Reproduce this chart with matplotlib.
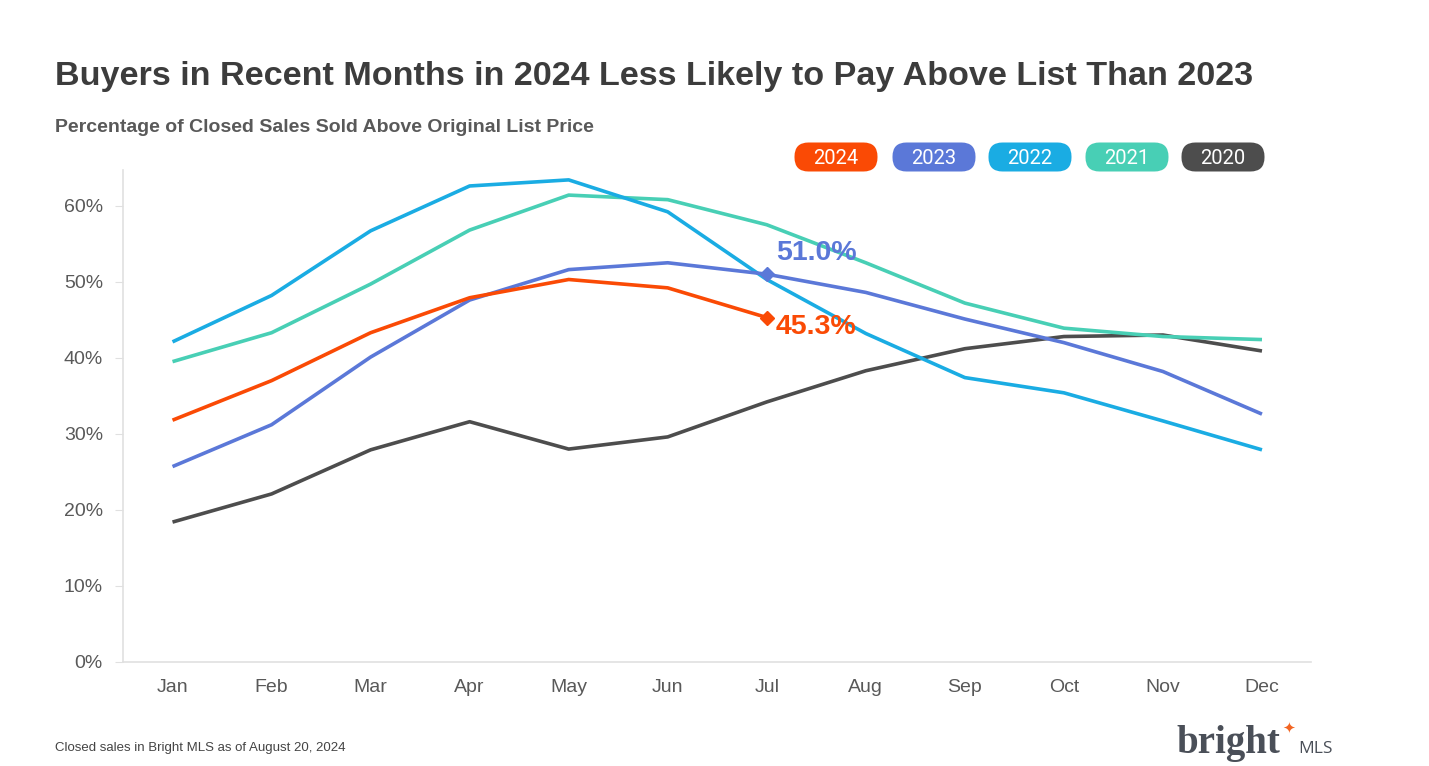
#!/usr/bin/env python3
"""Share of closed sales sold above original list price, 2020-2024."""

import matplotlib

matplotlib.use("Agg")
import matplotlib.pyplot as plt
from matplotlib.patches import FancyBboxPatch

MONTHS = ["Jan", "Feb", "Mar", "Apr", "May", "Jun", "Jul", "Aug", "Sep", "Oct", "Nov", "Dec"]

Y2024 = [31.8, 37.0, 43.3, 47.9, 50.3, 49.2, 45.3]
Y2023 = [25.7, 31.2, 40.1, 47.6, 51.6, 52.5, 51.0, 48.6, 45.1, 42.0, 38.2, 32.6]
Y2022 = [42.1, 48.2, 56.7, 62.6, 63.4, 59.2, 50.3, 43.2, 37.4, 35.4, 31.7, 27.9]
Y2021 = [39.5, 43.3, 49.7, 56.8, 61.4, 60.8, 57.5, 52.5, 47.2, 43.9, 42.8, 42.4]
Y2020 = [18.4, 22.1, 27.9, 31.6, 28.0, 29.6, 34.2, 38.3, 41.2, 42.8, 43.0, 40.9]

SERIES = [
    ("2020", Y2020, "#4d4d4d"),
    ("2021", Y2021, "#48cfb5"),
    ("2022", Y2022, "#1aace3"),
    ("2023", Y2023, "#5b78d8"),
    ("2024", Y2024, "#fa4a05"),
]
LEGEND_ORDER = ["2024", "2023", "2022", "2021", "2020"]

TEXT = "#3c3c3c"
GRAY = "#595959"
W, H = 1429, 766

plt.rcParams["font.family"] = ["Liberation Sans", "DejaVu Sans"]

fig = plt.figure(figsize=(W / 100, H / 100), dpi=100)
ax = fig.add_axes([123 / W, 1 - 662 / H, (1311.5 - 123) / W, (662 - 170) / H])

colors = {}
for name, vals, col in SERIES:
    colors[name] = col
    ax.plot(range(len(vals)), vals, color=col, lw=2.6, solid_capstyle="butt", zorder=3)

# highlight July for 2024 and 2023
for name, vals, dy in [("2023", Y2023, 2.8), ("2024", Y2024, -1.3)]:
    i = len(Y2024) - 1
    ax.plot(i, vals[i], marker="D", ms=7, color=colors[name], zorder=4)
    ax.text(i + 0.09, vals[i] + dy, f"{vals[i]:.1f}%", color=colors[name],
            fontsize=20.5, fontweight="bold", va="center", ha="left")

ax.set_xlim(-0.5, 11.5)
ax.set_ylim(0, 64.7)
ax.set_xticks(range(12))
ax.set_xticklabels(MONTHS)
ax.set_yticks(range(0, 61, 10))
ax.set_yticklabels([f"{v}%" for v in range(0, 61, 10)])
ax.tick_params(axis="x", length=0, pad=12, labelsize=14, labelcolor=GRAY)
ax.tick_params(axis="y", length=6, color="#e0e0e0", pad=8.5, labelsize=14, labelcolor=GRAY)
for s in ["top", "right"]:
    ax.spines[s].set_visible(False)
for s in ["left", "bottom"]:
    ax.spines[s].set_color("#e0e0e0")
    ax.spines[s].set_linewidth(1.2)

# overlay in pixel coordinates for titles, pills and logo
ov = fig.add_axes([0, 0, 1, 1], facecolor="none")
ov.set_xlim(0, W)
ov.set_ylim(H, 0)
ov.axis("off")

ov.text(55, 85, "Buyers in Recent Months in 2024 Less Likely to Pay Above List Than 2023",
        fontsize=24.6, fontweight="bold", color=TEXT, va="baseline", ha="left")
ov.text(55, 132, "Percentage of Closed Sales Sold Above Original List Price",
        fontsize=14, fontweight="bold", color=GRAY, va="baseline", ha="left")

# pill legend
centers = [836, 934, 1030, 1127, 1223]
pw, ph, r = 83, 29, 14
for name, cx in zip(LEGEND_ORDER, centers):
    ov.add_patch(FancyBboxPatch((cx - pw / 2 + r, 157 - ph / 2 + r), pw - 2 * r, ph - 2 * r,
                                boxstyle=f"round,pad={r},rounding_size={r}",
                                facecolor=colors[name], edgecolor="none"))
    ov.text(cx, 158, name, fontsize=14.5, color="white", ha="center", va="center",
            family=["Roboto", "DejaVu Sans"])

ov.text(55, 748, "Closed sales in Bright MLS as of August 20, 2024",
        fontsize=9.5, color="#444444", va="center", ha="left")

# logo
ov.text(1176, 753, "bright", fontsize=28, color="#4a4f58", fontweight="bold",
        family=["Liberation Serif", "DejaVu Serif"], va="baseline", ha="left")
ov.text(1289, 728, "\u2726", fontsize=11, color="#f26522",
        va="center", ha="center", family=["DejaVu Sans"])
ov.text(1298, 753, "MLS", fontsize=12.5, color="#4a4f58",
        va="baseline", ha="left", family=["Open Sans", "DejaVu Sans"])

fig.savefig("out.png", dpi=100)
